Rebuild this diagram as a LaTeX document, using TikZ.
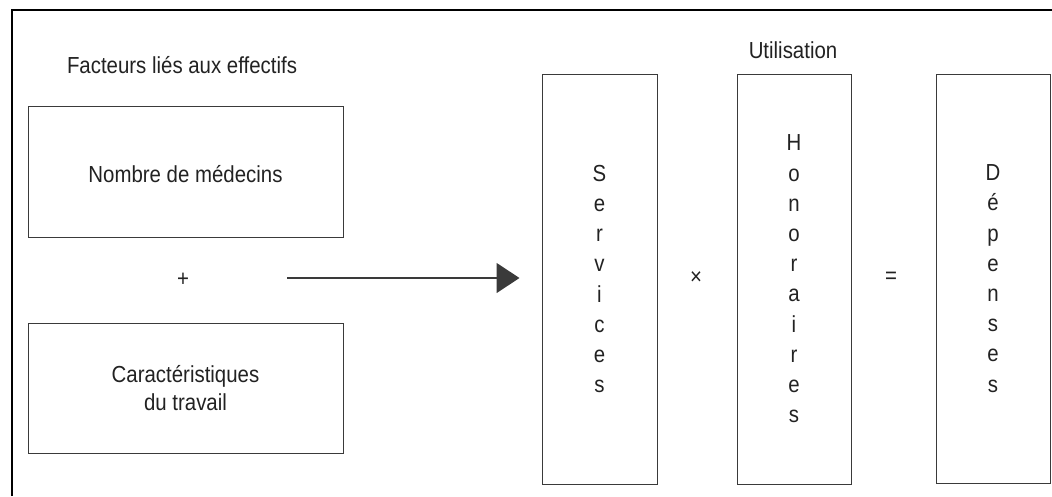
\documentclass[tikz,border=0pt]{standalone}
\usepackage{fontspec}
\setmainfont[FakeStretch=0.88]{Liberation Sans}
\usetikzlibrary{arrows.meta}
\definecolor{boxgray}{HTML}{3A3A3A}
\definecolor{txt}{HTML}{222222}
\begin{document}
\begin{tikzpicture}[x=1pt,y=-1pt,
  every node/.style={text=txt,font=\fontsize{23.2}{28}\selectfont},
  hbox/.style={draw=boxgray,line width=1pt,inner sep=0pt,minimum width=315pt,minimum height=131pt,align=center},
  vbox/.style={draw=boxgray,line width=1pt,inner sep=0pt,minimum width=114pt,minimum height=410pt,align=center,font=\fontsize{23.2}{30.2}\selectfont},
  lbl/.style={inner sep=0pt}]
\useasboundingbox (0,0) rectangle (1052,496);
\draw[line width=1.3pt,black] (12,496) -- (12,10) -- (1052,10);

\node[lbl] (titleA) at (182,65) {Facteurs liés aux effectifs};
\node[hbox,text height=22pt] (medecins) at (185.5,171.5) {Nombre de médecins};
\node[lbl] (plus) at (183,280) {+};
\node[hbox,minimum height=130pt] (travail) at (185.5,388) {Caractéristiques\\du travail};

\node[lbl] (util) at (793,50) {Utilisation};
\node[vbox,minimum width=115pt] (serv) at (599.5,279) {S\\e\\r\\v\\i\\c\\e\\s};
\node[lbl] (times) at (696,278) {×};
\node[vbox] (hono) at (794,279) {H\\o\\n\\o\\r\\a\\i\\r\\e\\s};
\node[lbl] (equal) at (891,278) {=};
\node[vbox,minimum height=409pt] (dep) at (993,278.5) {D\\é\\p\\e\\n\\s\\e\\s};

\coordinate (arrstart) at (287,278);
\draw[line width=1.3pt,boxgray,-{Triangle[length=23pt,width=30pt]}] (arrstart) -- ([xshift=-22pt]serv.west |- arrstart);
\end{tikzpicture}
\end{document}
